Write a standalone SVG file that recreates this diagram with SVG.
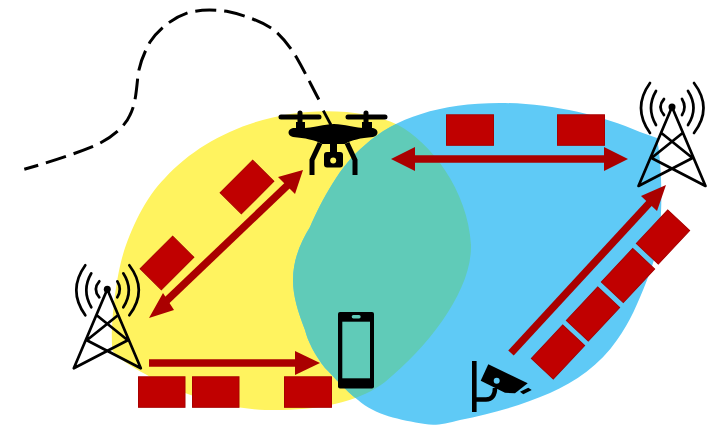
<svg xmlns="http://www.w3.org/2000/svg" width="725" height="425" viewBox="0 0 725 425">
<style>
.pk{fill:#c00000;stroke:#a80000;stroke-width:1}
.ar{stroke:#aa0000;stroke-width:7.5;fill:none}
.ah{fill:#aa0000}
.bk{fill:none;stroke:#000;stroke-linecap:round;stroke-linejoin:round}
</style>
<defs>
<path id="yellow-shape" d="M112 345C111 320 116 280 122 258C130 230 145 198 165 178C195 145 240 122 290 114C330 108 372 112 398 125C430 142 468 190 471 245C472 290 430 345 385 382C355 405 310 411 265 410C220 408 170 390 147 375C130 366 118 358 112 350Z"/>
<path id="blue-shape" d="M293 280C293 258 302 240 310 227C322 200 340 165 365 145C395 118 440 103 500 103C550 103 600 115 640 132L657 138C661 160 662 190 661 213C660 240 655 260 647 280C638 303 630 322 617 340C600 365 575 382 550 393C520 406 490 414 460 420C445 424 435 426 425 424C400 420 375 415 358 400C345 390 335 378 325 368C315 355 308 342 305 330C298 312 293 296 293 280Z"/>
<clipPath id="blue-clip"><use href="#blue-shape"/></clipPath>
<g id="tower">
<circle cx="0" cy="0" r="3.5" fill="#000"/>
<path class="bk" stroke-width="2.7" d="M0 0L-33.5 79L20.5 51L-10 26.5M0 0L33.5 79L-20.5 51L10 26.5"/>
<path class="bk" stroke-width="2.7" d="M-8-8Q-15 0-8 8M10-8Q15 0 10 8M-16-16Q-26 1-16 18M16-16Q27 1 16 18M-22-24Q-40 1-22 26M22-24Q41 1 22 26"/>
</g>
</defs>
<g id="zones">
<use id="zone-yellow" href="#yellow-shape" fill="#fff35f"/>
<use id="zone-blue" href="#blue-shape" fill="#5fcaf6"/>
<g clip-path="url(#blue-clip)"><use id="zone-overlap" href="#yellow-shape" fill="#60cbb8"/></g>
</g>
<g id="connectors">
<path fill="none" stroke="#000" stroke-width="3" stroke-dasharray="21 8" stroke-dashoffset="6.500" d="M24.300 169.300C48 162.500 72 155 94 146C110 139 125 127 130 115C135 105 136 95 137.700 78C139 65 143 55 150 42C158 30 172 18 188 12.700C200 9.500 213 9.500 226.700 11.300C245 15 262 22 272.700 29C284 38 292 50 296.700 57.700C305 72 312 87 320 101.700"/>
<path d="M323.300 110.700L331 125" fill="none" stroke="#000" stroke-width="2.800"/>
<path class="ar" d="M291 182L161 306"/><path class="ah" d="M303 170L278 177L295 194ZM149 318L163 293L174 310Z"/>
<path class="ar" d="M149 363H300"/><path class="ah" d="M320 363L295 351V375Z"/>
<path class="ar" d="M405 159H610"/><path class="ah" d="M391 159L415 147V171ZM628 159L604 147V171Z"/>
<path class="ar" d="M511 353L654 198"/><path class="ah" d="M666 185L641 196L657 211Z"/>
</g>
<g id="packets">
<rect class="pk" x="446.500" y="114.800" width="47" height="30.500"/>
<rect class="pk" x="557.500" y="114.800" width="47" height="30.500"/>
<rect class="pk" x="138.500" y="376.800" width="46.500" height="30.500"/>
<rect class="pk" x="192.500" y="376.800" width="46.500" height="30.500"/>
<rect class="pk" x="284.500" y="376.800" width="47" height="30.500"/>
<rect class="pk" x="-23" y="-15" width="46" height="30" transform="translate(247 187) rotate(-45)"/>
<rect class="pk" x="-23" y="-15" width="46" height="30" transform="translate(167 263) rotate(-45)"/>
<rect class="pk" x="-23" y="-15" width="46" height="30" transform="translate(663 237) rotate(-47)"/>
<rect class="pk" x="-23" y="-15" width="46" height="30" transform="translate(628 275.500) rotate(-47)"/>
<rect class="pk" x="-23" y="-15" width="46" height="30" transform="translate(593 314) rotate(-47)"/>
<rect class="pk" x="-23" y="-15" width="46" height="30" transform="translate(558 352) rotate(-47)"/>
</g>
<g id="tower-left"><use href="#tower" x="107.300" y="289.300"/></g>
<g id="tower-right"><use href="#tower" x="672" y="107"/></g>
<g id="drone">
<path d="M281 117H319M348 117H385" stroke="#000" stroke-width="5" stroke-linecap="round"/>
<path d="M300 113V127M366 113V127" stroke="#000" stroke-width="5" stroke-linecap="round"/>
<path d="M296 122H305V131H296ZM362 122H372V131H362Z" fill="#000"/>
<path d="M293 128C315 129 322 124 334 124C346 124 355 129 373 128C379 129 379 136 373 137C360 138 352 140 345 144H322C315 140 305 138 293 137C287 136 287 129 293 128Z" fill="#000"/>
<path d="M320 143L312 160V175M347 143L355 160V175" fill="none" stroke="#000" stroke-width="5"/>
<path d="M330 142H337V153H330Z" fill="#000"/>
<rect x="324" y="152" width="19" height="15.500" rx="3" fill="#000"/>
<circle cx="333.200" cy="160.500" r="3" fill="#fff35f"/>
</g>
<g id="phone">
<rect x="338" y="312" width="36" height="76.500" rx="2" fill="#000"/>
<rect x="342.300" y="321.700" width="27.700" height="56.600" fill="#60cbb8"/>
<rect x="351.700" y="315" width="9" height="3.400" rx="1.700" fill="#60cbb8"/>
</g>
<g id="camera">
<path d="M474.300 361V412" stroke="#000" stroke-width="4.600" fill="none"/>
<path d="M475 399.500H486C492 399.500 495 395 495 388" stroke="#000" stroke-width="4.500" fill="none"/>
<path d="M488.300 364.300L527.700 383.300L515 393.300L505 392.700L480.700 380.700Z" fill="#000"/>
<circle cx="496.700" cy="380.700" r="3" fill="#5fcaf6"/>
<path d="M520 391.700L528.300 387.700L531.700 390L523.300 394.300Z" fill="#000"/>
</g>
</svg>
